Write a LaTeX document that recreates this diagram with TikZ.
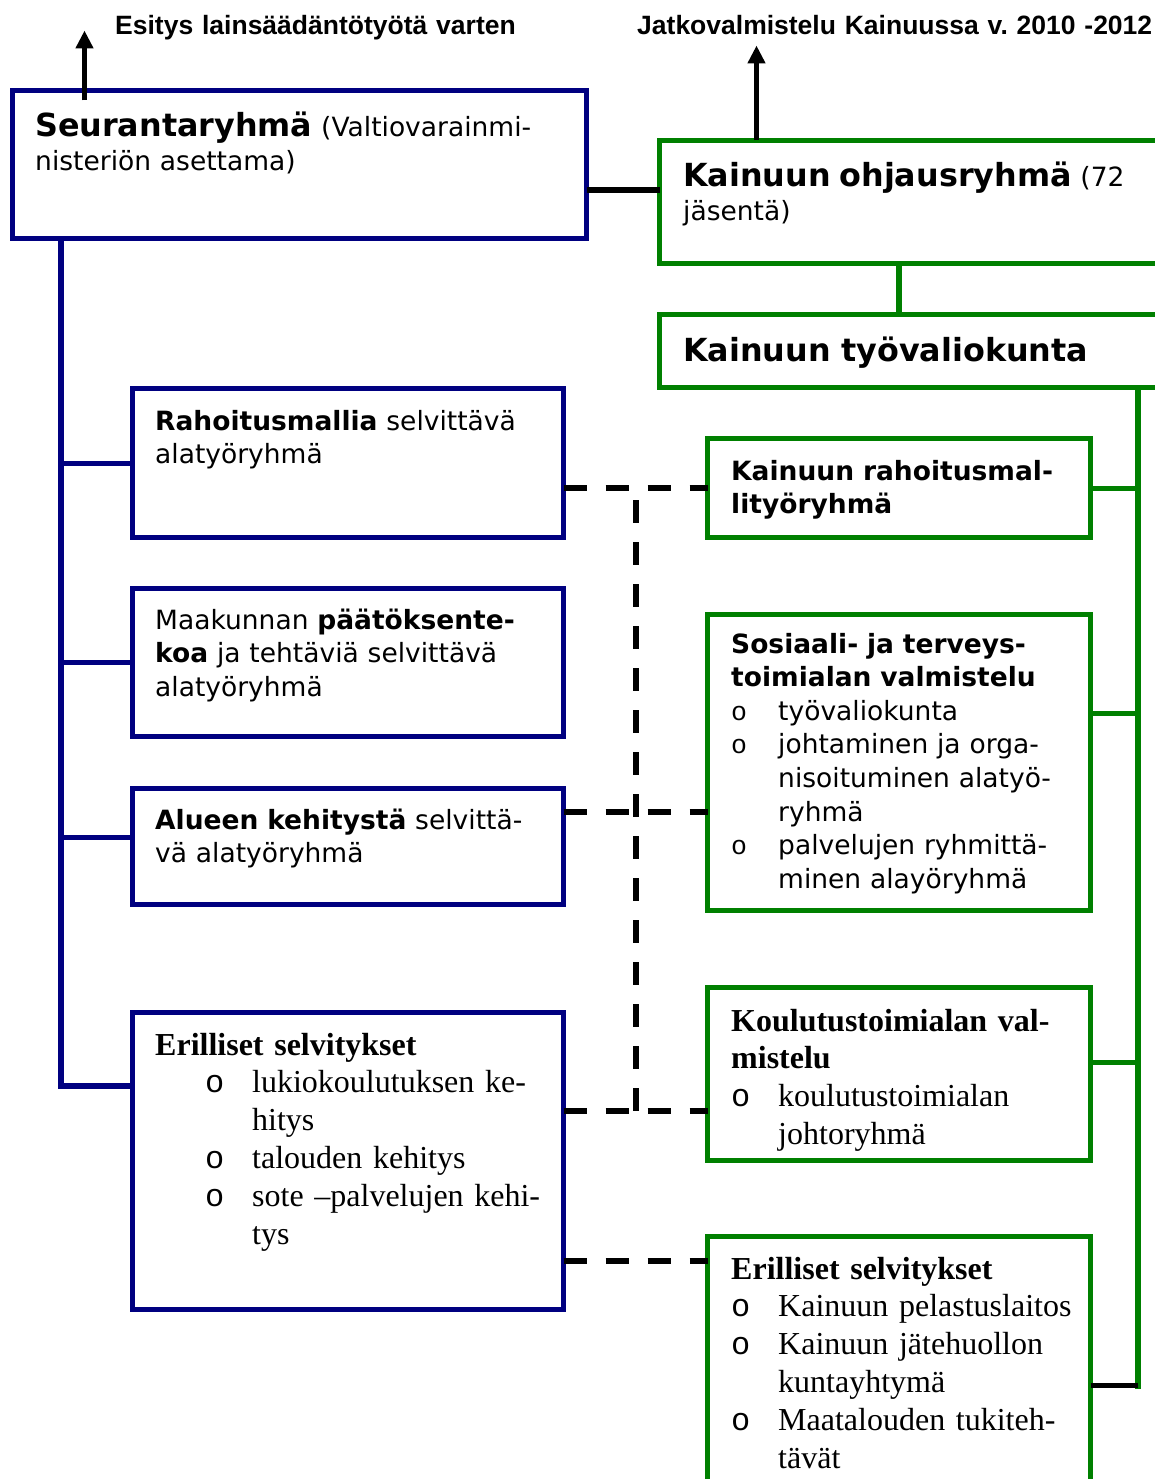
\documentclass[tikz,border=0pt]{standalone}
\usepackage{fontspec}
\setmainfont{Liberation Serif}
\setsansfont{DejaVu Sans}
\newfontfamily\arialfont{Liberation Sans}
\newfontfamily\bulfont{Liberation Mono}
\usetikzlibrary{calc}
\usetikzlibrary{arrows.meta}
\definecolor{navy}{RGB}{0,0,128}
\definecolor{leaf}{RGB}{0,128,0}
\frenchspacing
\newcommand*{\bw  }{47pt}
\newcommand*{\hdf }{\fontsize{31.8}{33.6}\selectfont\bfseries}
\newcommand*{\sns }{\sffamily\fontsize{26.5}{33.6}\selectfont}
\newcommand*{\srf }{\rmfamily\fontsize{32}{37.8}\selectfont}
\newcommand*{\ttl }{\arialfont\bfseries\fontsize{26.5}{30}\selectfont}
\newcommand*{\bul }{\makebox[\bw][l]{\bulfont o}}
\newcommand*{\bgap}{\hspace*{\bw}}

\begin{document}
\begin{tikzpicture}[x=1pt, y=-1pt,
    bluebox/.style  = {draw=navy, line width=5.5pt, inner sep=0pt, outer sep=0pt, anchor=north west},
    greenbox/.style = {draw=leaf, line width=5.5pt, inner sep=0pt, outer sep=0pt, anchor=north west},
    txt/.style      = {inner sep=0pt, anchor=base west, text width=#1, align=left},
    txt/.default    = 440pt,
    navyline/.style = {draw=navy, line width=5.5pt},
    leafline/.style = {draw=leaf, line width=5pt},
    blackline/.style= {draw=black, line width=6pt},
    dashline/.style = {draw=black, line width=6pt, dash pattern=on 23pt off 19pt},
    uparrow/.style  = {draw=black, line width=5pt, -{Triangle[length=18pt,width=17pt]}}]
    \useasboundingbox (0,0) rectangle (1155,1479);
    \clip (0,0) rectangle (1155,1479);
    % valtion puoli
    \node [bluebox, minimum width=574, minimum height=148] (seur) at (12.5,90.5)   {};
    \node [bluebox, minimum width=431, minimum height=149] (raho) at (132.5,388.5)  {};
    \node [bluebox, minimum width=431, minimum height=148] (maak) at (132.5,588.5)  {};
    \node [bluebox, minimum width=431, minimum height=116] (alue) at (132.5,788.5)  {};
    \node [bluebox, minimum width=431, minimum height=297] (lerl) at (132.5,1012.5) {};
    % Kainuun puoli
    \node [greenbox, minimum width=515, minimum height=123] (ohj)  at (659.5,140.5)  {};
    \node [greenbox, minimum width=515, minimum height=73]  (tyov) at (659.5,314.5)  {};
    \node [greenbox, minimum width=383, minimum height=99]  (krah) at (707.5,438.5)  {};
    \node [greenbox, minimum width=383, minimum height=296] (sos)  at (707.5,614.5)  {};
    \node [greenbox, minimum width=383, minimum height=173] (koul) at (707.5,987.5)  {};
    \node [greenbox, minimum width=383, minimum height=280] (rerl) at (707.5,1236.5) {};

    \node [txt=600pt, font=\ttl] (esit)  at (115,35) {Esitys lainsäädäntötyötä varten};
    \node [txt=600pt, font=\ttl] (jatko) at (637,35) {Jatkovalmistelu Kainuussa v. 2010 -2012};
    \node [txt=600pt, font=\sns] (seurtxt) at (35,137)  {{\hdf Seurantaryhmä} (Valtiovarainmi-\\nisteriön asettama)};
    \node [txt=600pt, font=\sns] (ohjtxt)  at (683,187) {{\hdf Kainuun ohjausryhmä} (72\\jäsentä)};
    \node [txt=600pt, font=\sns\hdf] (tyovtxt) at (683,361) {Kainuun työvaliokunta};
    \node [txt, font=\sns] (rahotxt) at (155,430) {\textbf{Rahoitusmallia} selvittävä\\alatyöryhmä};
    \node [txt, font=\sns] (maaktxt) at (155,629) {Maakunnan \textbf{päätöksente-}\\\textbf{koa} ja tehtäviä selvittävä\\alatyöryhmä};
    \node [txt, font=\sns] (aluetxt) at (155,829) {\textbf{Alueen kehitystä} selvittä-\\vä alatyöryhmä};
    \node [txt, font=\srf] (lerltxt) at (155,1055) {\textbf{Erilliset selvitykset}\\
        \hspace*{50pt}\bul lukiokoulutuksen ke-\\\hspace*{50pt}\bgap hitys\\
        \hspace*{50pt}\bul talouden kehitys\\
        \hspace*{50pt}\bul sote –palvelujen kehi-\\\hspace*{50pt}\bgap tys};
    \node [txt, font=\sns] (krahtxt) at (731,480) {\textbf{Kainuun rahoitusmal-}\\\textbf{lityöryhmä}};
    \node [txt, font=\sns] (sostxt)  at (731,653) {\textbf{Sosiaali- ja terveys-}\\\textbf{toimialan valmistelu}\\
        \bul työvaliokunta\\
        \bul johtaminen ja orga-\\\bgap nisoituminen alatyö-\\\bgap ryhmä\\
        \bul palvelujen ryhmittä-\\\bgap minen alayöryhmä};
    \node [txt, font=\srf] (koultxt) at (731,1031) {\textbf{Koulutustoimialan val-}\\\textbf{mistelu}\\
        \bul koulutustoimialan\\\bgap johtoryhmä};
    \node [txt, font=\srf] (rerltxt) at (731,1279) {\textbf{Erilliset selvitykset}\\
        \bul Kainuun pelastuslaitos\\
        \bul Kainuun jätehuollon\\\bgap kuntayhtymä\\
        \bul Maatalouden tukiteh-\\\bgap tävät};

    % yhteydet
    \draw [uparrow] ([xshift=72pt,yshift=-10pt]seur.north west) -- ++(0,-70);
    \draw [uparrow] ([xshift=97pt]ohj.north west) -- ++(0,-95);
    \draw [blackline] ([yshift=-25.5pt]seur.east) -- ([yshift=-25.5pt]seur.east -| ohj.west);
    \draw [leafline, line width=6pt] ([xshift=-18pt]ohj.south) -- ([xshift=-18pt]tyov.north);

    \coordinate (ltop) at ([xshift=48.5pt]seur.south west);
    \draw [navyline] (ltop) |- ([yshift=75pt]lerl.west);
    \draw [navyline, line width=5pt] (ltop |- raho.west) -- (raho.west);
    \draw [navyline, line width=5pt] (ltop |- maak.west) -- (maak.west);
    \draw [navyline, line width=5pt] ([yshift=9.5pt]alue.west -| ltop) -- ([yshift=9.5pt]alue.west);

    \coordinate (rtop) at ([xshift=478.5pt]tyov.south west);
    \draw [leafline, line width=6pt] (rtop) -- ([yshift=-12pt]rerl.east -| rtop);
    \draw [leafline] (krah.east) -- (krah.east -| rtop);
    \draw [leafline] ([yshift=49.5pt]sos.east) -- ([yshift=49.5pt]sos.east -| rtop);
    \draw [leafline] ([yshift=12pt]koul.east) -- ([yshift=12pt]koul.east -| rtop);
    \draw [blackline, line width=5pt] ([yshift=-9pt]rerl.east) -- ([yshift=-9pt]rerl.east -| rtop);

    \draw [dashline] (raho.east |- krah.west) -- (krah.west);
    \draw [dashline] ([yshift=34.5pt]alue.east) -- ([yshift=34.5pt]alue.east -| sos.west);
    \draw [dashline] ([yshift=50pt]lerl.east) -- ([yshift=50pt]lerl.east -| koul.west);
    \draw [dashline] ([yshift=-100pt]lerl.east) -- ([yshift=-100pt]lerl.east -| rerl.west);
    \coordinate (dmid) at ($(raho.east |- krah.west)!0.5!(krah.west)$);
    \draw [dashline] ([yshift=-12pt]dmid) -- ([yshift=50pt]lerl.east -| dmid);
    %\draw [dashline] (dmid) -- ++(0,12);
\end{tikzpicture}
\end{document}
